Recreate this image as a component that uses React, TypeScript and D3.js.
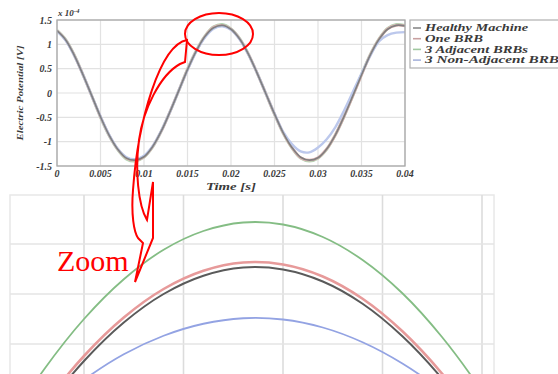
import React from 'react';
import * as d3 from 'd3';

// ---- Main plot: electric potential over two supply periods (x 1e-4 V) ----
const TIME = [
  0, 0.001, 0.002, 0.003, 0.004, 0.005, 0.006, 0.007, 0.008, 0.009,
  0.01, 0.011, 0.012, 0.013, 0.014, 0.015, 0.016, 0.017, 0.018, 0.019,
  0.02, 0.021, 0.022, 0.023, 0.024, 0.025, 0.026, 0.027, 0.028, 0.029,
  0.03, 0.031, 0.032, 0.033, 0.034, 0.035, 0.036, 0.037, 0.038, 0.039, 0.04,
];
const HEALTHY = [
  1.28, 1.09, 0.77, 0.37, -0.06, -0.49, -0.87, -1.16, -1.34, -1.38,
  -1.31, -1.1, -0.78, -0.38, 0.05, 0.48, 0.86, 1.16, 1.34, 1.39,
  1.31, 1.11, 0.8, 0.41, -0.01, -0.43, -0.82, -1.12, -1.32, -1.38,
  -1.33, -1.15, -0.86, -0.48, -0.06, 0.37, 0.78, 1.1, 1.31, 1.39, 1.38,
];
const ONE_BRB = [
  1.28, 1.09, 0.77, 0.37, -0.06, -0.49, -0.87, -1.16, -1.34, -1.38,
  -1.31, -1.1, -0.78, -0.38, 0.05, 0.48, 0.86, 1.16, 1.35, 1.39,
  1.31, 1.11, 0.8, 0.41, -0.01, -0.43, -0.82, -1.12, -1.33, -1.38,
  -1.33, -1.15, -0.86, -0.48, -0.06, 0.37, 0.78, 1.1, 1.32, 1.39, 1.38,
];
const ADJACENT_3 = [
  1.29, 1.1, 0.78, 0.37, -0.06, -0.5, -0.88, -1.17, -1.36, -1.4,
  -1.32, -1.11, -0.78, -0.38, 0.05, 0.49, 0.87, 1.17, 1.36, 1.41,
  1.32, 1.12, 0.8, 0.41, -0.01, -0.44, -0.83, -1.13, -1.34, -1.4,
  -1.34, -1.16, -0.86, -0.48, -0.06, 0.38, 0.79, 1.11, 1.33, 1.41, 1.39,
];
const NON_ADJACENT_3 = [
  1.27, 1.08, 0.76, 0.37, -0.06, -0.48, -0.86, -1.15, -1.32, -1.36,
  -1.29, -1.09, -0.77, -0.38, 0.05, 0.47, 0.85, 1.14, 1.32, 1.37,
  1.3, 1.1, 0.79, 0.41, -0.01, -0.42, -0.8, -1.05, -1.2, -1.22,
  -1.12, -0.95, -0.7, -0.36, 0.02, 0.4, 0.76, 1.06, 1.19, 1.24, 1.25,
];

const SERIES_NAMES = ['Healthy Machine', 'One BRB', '3 Adjacent BRBs', '3 Non-Adjacent BRBs'];

const X_TICKS = [0, 0.005, 0.01, 0.015, 0.02, 0.025, 0.03, 0.035, 0.04];
const X_TICK_LABELS = ['0', '0.005', '0.01', '0.015', '0.02', '0.025', '0.03', '0.035', '0.04'];
const Y_TICKS = [-1.5, -1, -0.5, 0, 0.5, 1, 1.5];
const Y_TICK_LABELS = ['-1.5', '-1', '-0.5', '0', '0.5', '1', '1.5'];

// ---- Enlarged view around the first positive peak ----
const ZOOM_TIME = [
  0.0176, 0.0178, 0.018, 0.0182, 0.0184, 0.0186, 0.0188,
  0.019, 0.0192, 0.0194, 0.0196, 0.0198, 0.02, 0.0202,
];
const ZOOM_HEALTHY = [1.3102, 1.3337, 1.3532, 1.3686, 1.38, 1.3873, 1.3906, 1.3898, 1.385, 1.3761, 1.3631, 1.3461, 1.3251, 1.3];
const ZOOM_ONE_BRB = [1.3122, 1.3357, 1.3552, 1.3706, 1.382, 1.3893, 1.3926, 1.3918, 1.387, 1.3781, 1.3651, 1.3481, 1.3271, 1.302];
const ZOOM_ADJACENT_3 = [1.3256, 1.3499, 1.37, 1.3859, 1.3977, 1.4052, 1.4086, 1.4078, 1.4028, 1.3936, 1.3803, 1.3627, 1.341, 1.3151];
const ZOOM_NON_ADJACENT_3 = [1.3175, 1.3329, 1.3457, 1.3559, 1.3633, 1.3681, 1.3703, 1.3698, 1.3666, 1.3607, 1.3522, 1.3411, 1.3273, 1.3108];
const ZOOM_X_GRID = [0.018, 0.0185, 0.019, 0.0195, 0.02];
const ZOOM_Y_GRID = [1.36, 1.38, 1.4];

const SERIF = '"Liberation Serif", "Times New Roman", serif';

type Pt = [number, number];
const zip = (xs: number[], ys: number[]): Pt[] => xs.map((x, i) => [x, ys[i]]);

export default function App() {
  const W = 558;
  const H = 374;

  // main axes
  const x = d3.scaleLinear().domain([0, 0.04]).range([57, 405]);
  const y = d3.scaleLinear().domain([-1.5, 1.5]).range([166, 20]);
  const line = d3
    .line<Pt>()
    .x((d) => x(d[0]))
    .y((d) => y(d[1]))
    .curve(d3.curveCatmullRom);

  // inset axes
  const xi = d3.scaleLinear().domain([0.018, 0.02]).range([84, 482]);
  const yi = d3.scaleLinear().domain([1.36, 1.4]).range([344, 244]);
  const lineI = d3
    .line<Pt>()
    .x((d) => xi(d[0]))
    .y((d) => yi(d[1]))
    .curve(d3.curveCatmullRom);

  const mainSeries = [
    { data: ADJACENT_3, color: '#b3d6b3', w: 2.8 },
    { data: ONE_BRB, color: '#dfb3b3', w: 2.8 },
    { data: NON_ADJACENT_3, color: '#bcc8ec', w: 2.4 },
    { data: HEALTHY, color: '#808080', w: 1.7 },
  ];

  const legendColors = ['#8a8a8a', '#c8a0a0', '#a0c8a0', '#a8b4dc'];
  const legendWidths = [103, 58, 103, 140];

  const tickFont = {
    fontFamily: SERIF,
    fontWeight: 'bold' as const,
    fontStyle: 'italic' as const,
    fontSize: 10,
    fill: '#3a3a3a',
  };

  return (
    <svg
      width={W}
      height={H}
      viewBox={`0 0 ${W} ${H}`}
      style={{ position: 'absolute', left: 0, top: 0, background: '#fff' }}
    >
      <defs>
        <clipPath id="mainClip">
          <rect x={57} y={20} width={348} height={146} />
        </clipPath>
        <clipPath id="zoomClip">
          <rect x={10} y={195} width={484} height={179} />
        </clipPath>
      </defs>
      <rect x={0} y={0} width={W} height={H} fill="#fff" />

      {/* ---------- main plot ---------- */}
      <g>
        {X_TICKS.map((t) => (
          <line key={'gx' + t} x1={x(t)} x2={x(t)} y1={20} y2={166} stroke="#e2e2e2" strokeWidth={1.2} />
        ))}
        {Y_TICKS.map((t) => (
          <line key={'gy' + t} x1={57} x2={405} y1={y(t)} y2={y(t)} stroke="#e2e2e2" strokeWidth={1.2} />
        ))}
        <g clipPath="url(#mainClip)">
          {mainSeries.map((s, i) => (
            <path
              key={i}
              d={line(zip(TIME, s.data)) || ''}
              fill="none"
              stroke={s.color}
              strokeWidth={s.w}
              strokeLinejoin="round"
            />
          ))}
        </g>
        <rect x={57} y={20} width={348} height={146} fill="none" stroke="#a8a8a8" strokeWidth={1.3} />

        {X_TICKS.map((t, i) => (
          <text key={'xl' + t} x={x(t)} y={177} textAnchor="middle" style={tickFont}>
            {X_TICK_LABELS[i]}
          </text>
        ))}
        {Y_TICKS.map((t, i) => (
          <text key={'yl' + t} x={52} y={y(t) + 3.5} textAnchor="end" style={tickFont}>
            {Y_TICK_LABELS[i]}
          </text>
        ))}
        <text x={58} y={16} style={{ ...tickFont, fontSize: 9 }}>
          x 10
          <tspan dy={-3} fontSize={7}>-4</tspan>
        </text>
        <text x={x(0.02)} y={190} textAnchor="middle" style={{ ...tickFont, fontSize: 10 }} textLength={50} lengthAdjust="spacingAndGlyphs">
          Time  [s]
        </text>
        <text
          transform={`translate(23, ${y(0)}) rotate(-90)`}
          textAnchor="middle"
          style={{ ...tickFont, fontSize: 9 }}
          textLength={95}
          lengthAdjust="spacingAndGlyphs"
        >
          Electric Potential [V]
        </text>

        {/* legend */}
        <rect x={410} y={20} width={160} height={48} fill="#fff" stroke="#b0b0b0" strokeWidth={1.2} />
        {SERIES_NAMES.map((name, i) => {
          const cy = 28 + i * 10.7;
          return (
            <g key={name}>
              <line x1={413} x2={421} y1={cy} y2={cy} stroke={legendColors[i]} strokeWidth={1.6} />
              <text
                x={425}
                y={cy + 3.3}
                style={{ ...tickFont, fontSize: 10 }}
                textLength={legendWidths[i]}
                lengthAdjust="spacingAndGlyphs"
              >
                {name}
              </text>
            </g>
          );
        })}
      </g>

      {/* ---------- enlarged peak ---------- */}
      <g>
        <rect x={10} y={195} width={484} height={185} fill="#fff" stroke="#e8e8e8" strokeWidth={1.5} />
        {ZOOM_X_GRID.map((t) => (
          <line key={'zx' + t} x1={xi(t)} x2={xi(t)} y1={195} y2={374} stroke="#dcdcdc" strokeWidth={1.6} />
        ))}
        {ZOOM_Y_GRID.map((v) => (
          <line key={'zy' + v} x1={10} x2={494} y1={yi(v)} y2={yi(v)} stroke="#e4e4e4" strokeWidth={1.6} />
        ))}
        <g clipPath="url(#zoomClip)">
          <path d={lineI(zip(ZOOM_TIME, ZOOM_NON_ADJACENT_3)) || ''} fill="none" stroke="#93a3e3" strokeWidth={1.8} />
          <path d={lineI(zip(ZOOM_TIME, ZOOM_ADJACENT_3)) || ''} fill="none" stroke="#84bd84" strokeWidth={1.8} />
          <path d={lineI(zip(ZOOM_TIME, ZOOM_HEALTHY)) || ''} fill="none" stroke="#5a5a5a" strokeWidth={2} />
          <path d={lineI(zip(ZOOM_TIME, ZOOM_ONE_BRB)) || ''} fill="none" stroke="#e79a9a" strokeWidth={2.6} />
        </g>
      </g>

      {/* ---------- annotation ---------- */}
      <ellipse cx={219} cy={34} rx={34} ry={21} fill="none" stroke="#ff0000" strokeWidth={2} />
      <path
        d="M187,40 C160,45 138,120 133,190 C131,215 134,232 138,238 L143,243 L135,282 L153,238 L153,182 L147,220 C138,205 135,170 139,140 C143,110 160,75 180,64 L185,62 Z"
        fill="none"
        stroke="#ff0000"
        strokeWidth={2}
        strokeLinejoin="miter"
      />
      <text x={57} y={271} fill="#ff0000" style={{ fontFamily: SERIF, fontSize: 30 }}>
        Zoom
      </text>
    </svg>
  );
}
